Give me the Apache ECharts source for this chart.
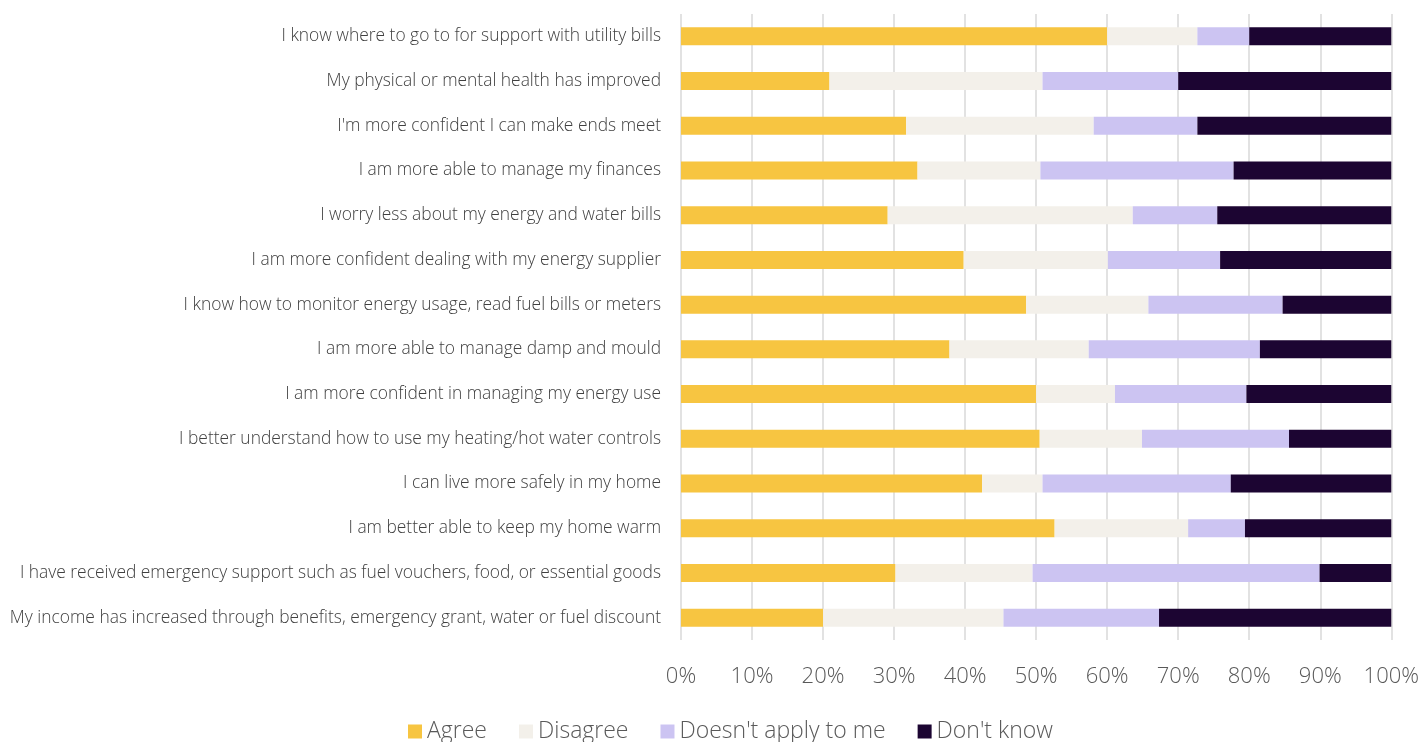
<!DOCTYPE html>
<html>
<head>
<meta charset="utf-8">
<script src="https://cdn.jsdelivr.net/npm/echarts@6/dist/echarts.min.js"></script>
<style>
  html, body { margin: 0; padding: 0; background: #fff; }
  #chartmain { width: 1422px; height: 742px; }
</style>
</head>
<body>
<div id="chartmain"></div>
<script>
// categories, top to bottom as in the picture
var categories = [
    "I know where to go to for support with utility bills",
    "My physical or mental health has improved",
    "I'm more confident I can make ends meet",
    "I am more able to manage my finances",
    "I worry less about my energy and water bills",
    "I am more confident dealing with my energy supplier",
    "I know how to monitor energy usage, read fuel bills or meters",
    "I am more able to manage damp and mould",
    "I am more confident in managing my energy use",
    "I better understand how to use my heating/hot water controls",
    "I can live more safely in my home",
    "I am better able to keep my home warm",
    "I have received emergency support such as fuel vouchers, food, or essential goods",
    "My income has increased through benefits, emergency grant, water or fuel discount"
];
var agree     = [60.0, 20.9, 31.7, 33.3, 29.1, 39.8, 48.6, 37.8, 50.0, 50.5, 42.4, 52.6, 30.2, 20.0];
var disagree  = [12.7, 30.0, 26.4, 17.3, 34.5, 20.3, 17.2, 19.6, 11.1, 14.4,  8.5, 18.8, 19.3, 25.4];
var notApply  = [ 7.3, 19.1, 14.6, 27.2, 11.9, 15.8, 18.9, 24.1, 18.5, 20.7, 26.5,  8.0, 40.4, 21.9];
var dontKnow  = [20.0, 30.0, 27.3, 22.2, 24.5, 24.1, 15.3, 18.5, 20.4, 14.4, 22.6, 20.6, 10.1, 32.7];

var seriesNames = ["Agree", "Disagree", "Doesn't apply to me", "Don't know"];
var colors = ["#F7C541", "#F3F0EA", "#CCC4F2", "#1C0532"];
var values = [agree, disagree, notApply, dontKnow];

var font = "'Open Sans', 'Segoe UI', sans-serif";

var series = [];
for (var i = 0; i < seriesNames.length; i++) {
    series.push({
        name: seriesNames[i],
        type: 'bar',
        stack: 'total',
        barWidth: 18,
        itemStyle: { color: colors[i] },
        data: values[i]
    });
}

var option = {
    animation: false,
    color: colors,
    grid: {
        left: 681,
        right: 25,
        top: 14,
        bottom: 102
    },
    legend: {
        top: 715,
        left: 403,
        itemWidth: 14,
        itemHeight: 14,
        itemGap: 32,
        icon: 'rect',
        textStyle: {
            color: '#595959',
            fontSize: 23,
            fontFamily: font,
            fontWeight: 300
        },
        data: seriesNames
    },
    xAxis: {
        type: 'value',
        min: 0,
        max: 100,
        interval: 10,
        axisLabel: {
            formatter: '{value}%',
            color: '#595959',
            fontSize: 22,
            fontFamily: font,
            fontWeight: 300,
            margin: 26
        },
        axisLine: { show: false },
        axisTick: { show: false },
        splitLine: {
            show: true,
            lineStyle: { color: '#d9d9d9', width: 1.5 }
        }
    },
    yAxis: {
        type: 'category',
        inverse: true,
        data: categories,
        axisLine: { show: false },
        axisTick: { show: false },
        axisLabel: {
            color: '#404040',
            fontSize: 17.4,
            fontFamily: font,
            fontWeight: 300,
            margin: 20
        }
    },
    series: series
};

var myChart = echarts.init(document.getElementById('chartmain'));
myChart.setOption(option);
</script>
</body>
</html>
